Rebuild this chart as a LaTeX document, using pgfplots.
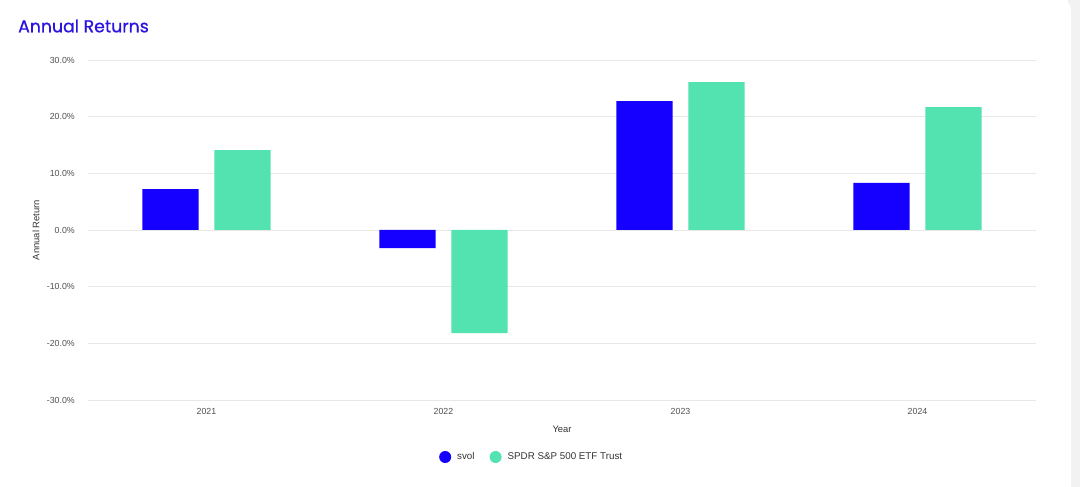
\documentclass[border=0pt]{standalone}
\usepackage{pgfplots}
\pgfplotsset{compat=1.18}
\usepackage{fontspec}
\setmainfont{Liberation Sans}
\newfontfamily\titlefont[FakeBold=0.8]{Poppins}
\definecolor{svol}{HTML}{1500FF}
\definecolor{spdr}{HTML}{52E3B0}
\definecolor{titleblue}{HTML}{2B14E0}
\definecolor{gridc}{HTML}{E8E8E8}
\definecolor{tickc}{HTML}{505050}
\definecolor{edgec}{HTML}{F2F2F2}
\begin{document}
\begin{tikzpicture}
\path[use as bounding box] (-88pt,-87pt) rectangle (992pt,400pt);
\fill[edgec] (980pt,-87pt) rectangle (992pt,400pt);
\fill[white, rounded corners=10pt] (-100pt,-100pt) rectangle (983pt,400pt);
\fill[white] (-100pt,-100pt) rectangle (960pt,400pt);
\node[anchor=west, text=titleblue, font=\titlefont\fontsize{17.3}{20}\selectfont, inner sep=0pt] at (-70pt,374pt) {Annual Returns};
\begin{axis}[width=948pt, height=340pt, scale only axis,
 xmin=-0.5, xmax=3.5, ymin=-30, ymax=30,
 xtick={0,1,2,3}, xticklabels={2021,2022,2023,2024},
 ytick={-30,-20,...,30},
 /pgf/number format/assume math mode=true,
 yticklabel={\pgfmathprintnumber[fixed,fixed zerofill,precision=1]{\tick}\%},
 axis line style={draw=none}, major tick length=0pt, tick style={draw=none},
 ymajorgrids, grid style={gridc, line width=0.8pt},
 ticklabel style={font=\fontsize{8.8}{10}\selectfont, text=tickc, inner sep=0pt},
 xticklabel style={anchor=center, yshift=-11pt},
 yticklabel style={anchor=east, xshift=-13pt},
 xlabel={Year}, ylabel={Annual Return},
 label style={font=\fontsize{9.4}{10}\selectfont, text=black!80, inner sep=0pt},
 xlabel style={at={(axis description cs:0.5,0)}, anchor=center, yshift=-29pt},
 ylabel style={at={(axis description cs:0,0.5)}, anchor=center, yshift=52pt},
 ybar,
 legend columns=2,
 legend style={draw=none, fill=none, at={(axis description cs:0.468,0)}, yshift=-57pt, anchor=center,
   font=\fontsize{9.8}{11}\selectfont, text=black!80,
   /tikz/every even column/.append style={column sep=13pt}},
]
\addplot[fill=svol, draw=none, bar width=0.237, bar shift=-0.152,
  legend image code/.code={\fill[svol] (0pt,0pt) circle (6pt); \path (10pt,0pt);}]
  coordinates {(0,7.2) (1,-3.2) (2,22.75) (3,8.3)};
\addlegendentry{svol}
\addplot[fill=spdr, draw=none, bar width=0.237, bar shift=0.152,
  legend image code/.code={\fill[spdr] (0pt,0pt) circle (6pt); \path (10pt,0pt);}]
  coordinates {(0,14.1) (1,-18.2) (2,26.1) (3,21.7)};
\addlegendentry{SPDR S\&P 500 ETF Trust}
\end{axis}
\end{tikzpicture}
\end{document}
